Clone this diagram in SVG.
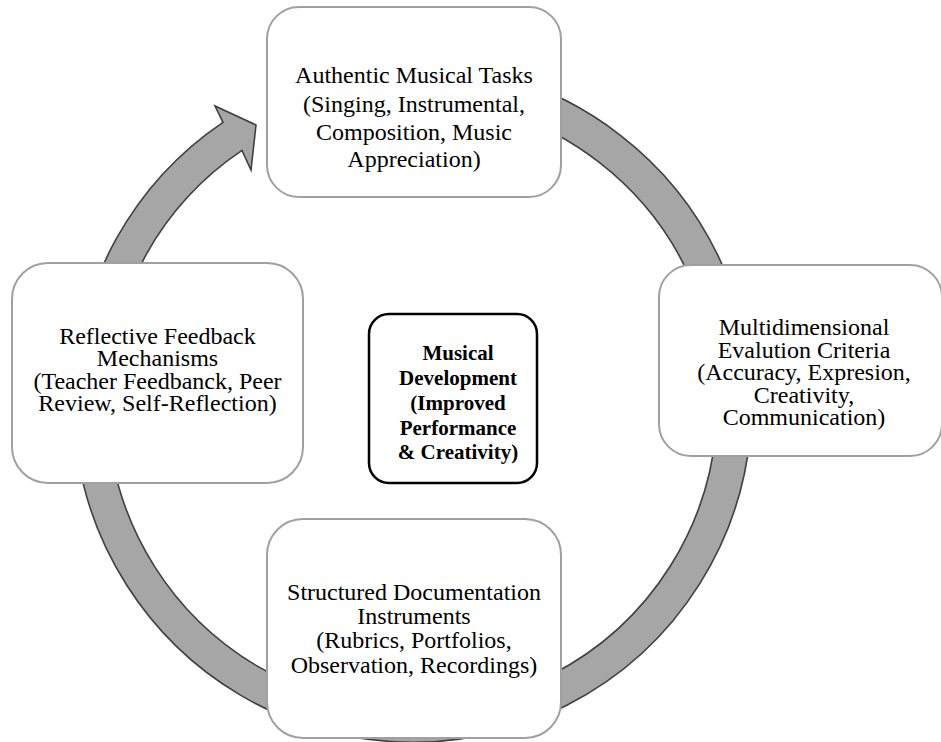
<svg xmlns="http://www.w3.org/2000/svg" width="941" height="742" viewBox="0 0 941 742">
<style>
.ring{fill:#a6a6a6;stroke:#404040;stroke-width:1.6;stroke-linejoin:miter}
.node{fill:#ffffff;stroke:#a0a0a0;stroke-width:2}
.center{fill:#ffffff;stroke:#000000;stroke-width:2.5}
.t{font-family:"Liberation Serif","Times New Roman",serif;font-size:24px;fill:#000;text-anchor:middle}
.b{font-family:"Liberation Serif","Times New Roman",serif;font-size:21px;font-weight:bold;fill:#000;text-anchor:middle}
</style>
<rect width="941" height="742" fill="#ffffff"/>
<g id="connectors">
<path class="ring" d="M 296.7 84.7 A 339 339 0 1 1 223.0 122.3 L 215 106 L 256 125 L 251 170 L 242.0 150.4 A 305 305 0 1 0 308.3 116.7 Z"/>
</g>
<g id="node-tasks">
<rect class="node" x="267" y="7" width="294" height="190" rx="32" ry="32"/>
<text class="t" x="414" y="83">Authentic Musical Tasks</text>
<text class="t" x="414" y="112">(Singing, Instrumental,</text>
<text class="t" x="414" y="140">Composition, Music</text>
<text class="t" x="414" y="167">Appreciation)</text>
</g>
<g id="node-criteria">
<rect class="node" x="659" y="265" width="283" height="191" rx="32" ry="32"/>
<text class="t" x="804" y="335">Multidimensional</text>
<text class="t" x="804" y="357.5">Evalution Criteria</text>
<text class="t" x="804" y="380">(Accuracy, Expresion,</text>
<text class="t" x="804" y="402.5">Creativity,</text>
<text class="t" x="804" y="425">Communication)</text>
</g>
<g id="node-documentation">
<rect class="node" x="267" y="519" width="294" height="219" rx="36" ry="36"/>
<text class="t" x="414" y="600">Structured Documentation</text>
<text class="t" x="414" y="624">Instruments</text>
<text class="t" x="414" y="648">(Rubrics, Portfolios,</text>
<text class="t" x="414" y="672.5">Observation, Recordings)</text>
</g>
<g id="node-feedback">
<rect class="node" x="12" y="263" width="291" height="220" rx="36" ry="36"/>
<text class="t" x="157.5" y="344">Reflective Feedback</text>
<text class="t" x="157.5" y="366">Mechanisms</text>
<text class="t" x="157.5" y="388.5">(Teacher Feedbanck, Peer</text>
<text class="t" x="157.5" y="411">Review, Self-Reflection)</text>
</g>
<g id="node-center">
<rect class="center" x="369" y="314" width="168" height="169" rx="20" ry="20"/>
<text class="b" x="458" y="360">Musical</text>
<text class="b" x="458" y="385">Development</text>
<text class="b" x="458" y="410">(Improved</text>
<text class="b" x="458" y="434.5">Performance</text>
<text class="b" x="458" y="459">&amp; Creativity)</text>
</g>
</svg>
